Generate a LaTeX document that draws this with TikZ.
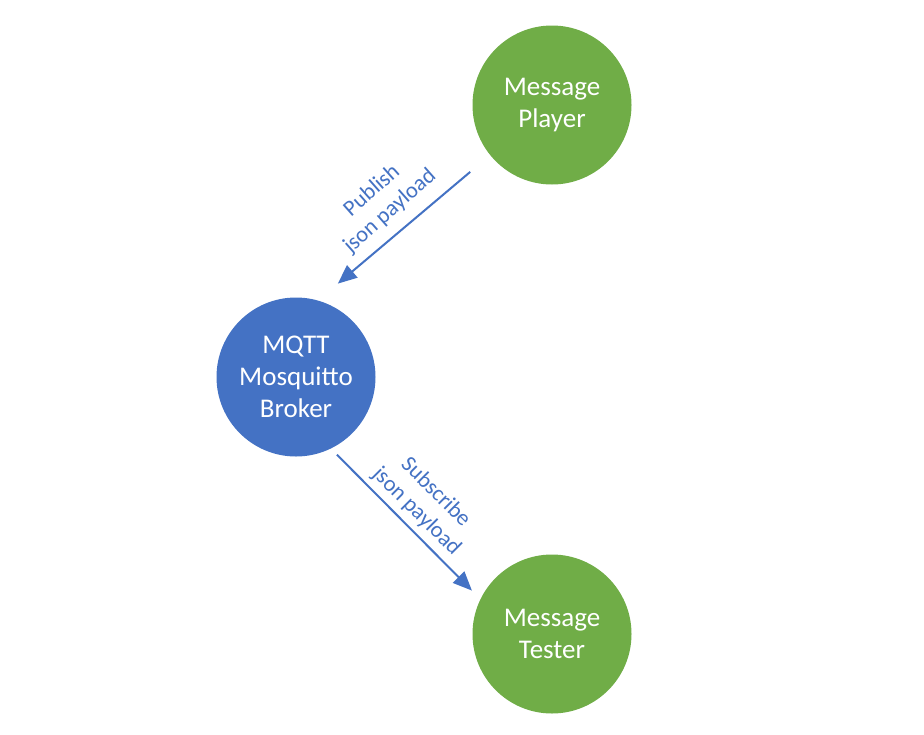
\documentclass[tikz,border=0pt]{standalone}
\usepackage{fontspec}
\setmainfont{Carlito}
\usetikzlibrary{arrows.meta,positioning}
\definecolor{officegreen}{HTML}{70AD47}
\definecolor{officeblue}{HTML}{4472C4}
\tikzset{
  basic/.style  = {circle, minimum size=159pt, inner sep=0pt, align=center,
                   text=white, font=\fontsize{27}{32}\selectfont},
  client/.style = {basic, fill=officegreen},
  broker/.style = {basic, fill=officeblue},
  lbl/.style    = {align=center, text=officeblue, font=\fontsize{22.5}{27}\selectfont},
  flow/.style   = {->, draw=officeblue, line width=2pt}
}
\begin{document}
\begin{tikzpicture}[x=1pt, y=-1pt,
  >={Triangle[length=19pt,width=16pt]}]
\useasboundingbox[fill=white] (0,0) rectangle (924,734);

% the three parties
\node[client] (player) at (552,105) {Message\\Player};
\node[broker] (mqtt)   at (296,377) {MQTT\\Mosquitto\\Broker};
\node[client] (tester) at (552,634) {Message\\Tester};

% messages between them
\draw[flow, shorten <=26pt, shorten >=26pt] (player.219) -- (mqtt.74);
\draw[flow, shorten <=8.5pt, shorten >=12pt] (mqtt.-64) -- (tester.154);

% arrow labels
\node[lbl, rotate=41.5] (pub) at (381,201) {Publish\\json payload};
\node[lbl, rotate=-45]  (sub) at (426,502) {Subscribe\\json payload};

\end{tikzpicture}
\end{document}
